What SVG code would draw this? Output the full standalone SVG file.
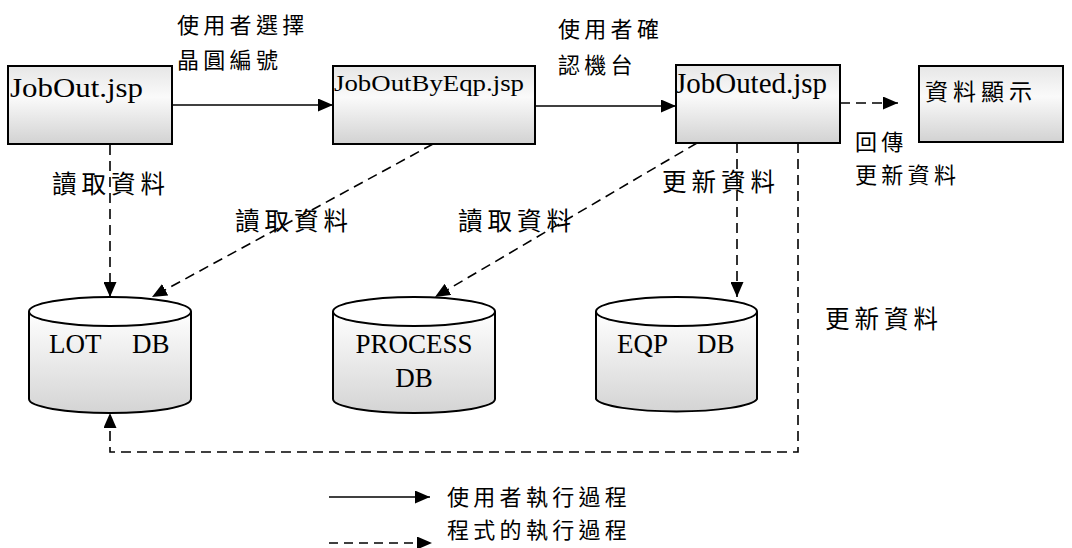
<svg xmlns="http://www.w3.org/2000/svg" width="1072" height="548" viewBox="0 0 1072 548">
  <defs>
    <linearGradient id="boxFill" x1="0" y1="0" x2="0" y2="1">
      <stop offset="0" stop-color="#e6e6e6"/>
      <stop offset="0.4" stop-color="#fafafa"/>
      <stop offset="1" stop-color="#d2d2d2"/>
    </linearGradient>
    <linearGradient id="cylFill" x1="0" y1="0" x2="0" y2="1">
      <stop offset="0" stop-color="#ffffff"/>
      <stop offset="1" stop-color="#d4d4d4"/>
    </linearGradient>
    <marker id="arrow" markerUnits="userSpaceOnUse" markerWidth="15" markerHeight="13" refX="15" refY="6.5" orient="auto">
      <path d="M0,0 L15,6.5 L0,13 z" fill="#000"/>
    </marker>
  </defs>
  <style>
    .box { fill: url(#boxFill); stroke: #000; stroke-width: 2; }
    .cyl { fill: url(#cylFill); stroke: #000; stroke-width: 2; }
    .cyltop { fill: #fff; stroke: #000; stroke-width: 2; }
    .en { font-family: "Liberation Serif", "Times New Roman", serif; fill: #000; }
    .zh { font-family: "Noto Sans CJK TC", "Noto Sans CJK SC", sans-serif; fill: #000; font-size: 22px; letter-spacing: 4.3px; }
    .zhl { font-family: "Noto Sans CJK TC", "Noto Sans CJK SC", sans-serif; fill: #000; font-size: 24.5px; letter-spacing: 5px; }
    .solid { fill: none; stroke: #000; stroke-width: 1.6; marker-end: url(#arrow); }
    .dash { fill: none; stroke: #000; stroke-width: 1.6; stroke-dasharray: 10 6; }
    .dash.arr { marker-end: url(#arrow); }
  </style>

  <!-- page nodes -->
  <g id="jobout">
    <rect class="box" x="8" y="66" width="164" height="78"/>
    <text class="en" x="10" y="97" font-size="28" textLength="133" lengthAdjust="spacingAndGlyphs">JobOut.jsp</text>
  </g>
  <g id="joboutbyeqp">
    <rect class="box" x="333" y="66" width="202" height="78"/>
    <text class="en" x="334" y="91" font-size="23" textLength="190" lengthAdjust="spacingAndGlyphs">JobOutByEqp.jsp</text>
  </g>
  <g id="jobouted">
    <rect class="box" x="676" y="65" width="164" height="78"/>
    <text class="en" x="675" y="93" font-size="29" textLength="152" lengthAdjust="spacingAndGlyphs">JobOuted.jsp</text>
  </g>
  <g id="display">
    <rect class="box" x="919" y="66" width="144" height="76"/>
    <text class="zh" x="925" y="100" style="font-size:23px;letter-spacing:5px">資料顯示</text>
  </g>

  <!-- database nodes -->
  <g id="lotdb">
    <path class="cyl" d="M29,311.5 V399 A81,14 0 0 0 191,399 V311.5"/>
    <ellipse class="cyltop" cx="110" cy="311.5" rx="81" ry="14.5"/>
    <text class="en" x="49" y="353" font-size="27">LOT<tspan x="132">DB</tspan></text>
  </g>
  <g id="processdb">
    <path class="cyl" d="M333,311.5 V399 A81,14 0 0 0 495,399 V311.5"/>
    <ellipse class="cyltop" cx="414" cy="311.5" rx="81" ry="14.5"/>
    <text class="en" x="414" y="353" font-size="27" text-anchor="middle">PROCESS</text>
    <text class="en" x="414" y="387" font-size="27" text-anchor="middle">DB</text>
  </g>
  <g id="eqpdb">
    <path class="cyl" d="M596,311.5 V399 A81,14 0 0 0 757,399 V311.5"/>
    <ellipse class="cyltop" cx="676.5" cy="311.5" rx="80.5" ry="14.5"/>
    <text class="en" x="617" y="353" font-size="27">EQP<tspan x="697">DB</tspan></text>
  </g>

  <!-- connectors -->
  <g id="connectors">
    <line class="solid" x1="172" y1="105" x2="333" y2="105"/>
    <line class="solid" x1="535" y1="106" x2="676" y2="106"/>
    <line class="dash arr" x1="840" y1="103" x2="898" y2="103"/>
    <line class="dash arr" x1="110" y1="145" x2="110" y2="297"/>
    <line class="dash arr" x1="433" y1="144" x2="152" y2="297"/>
    <line class="dash arr" x1="697" y1="143" x2="435" y2="297"/>
    <line class="dash arr" x1="737" y1="143" x2="737" y2="297"/>
    <polyline class="dash arr" points="798,143 798,452 110,452 110,413"/>
  </g>

  <!-- connector labels -->
  <g id="labels">
    <text class="zh" x="177" y="33">使用者選擇</text>
    <text class="zh" x="177" y="68">晶圓編號</text>
    <text class="zh" x="558" y="37">使用者確</text>
    <text class="zh" x="558" y="73">認機台</text>
    <text class="zh" x="855" y="150">回傳</text>
    <text class="zh" x="855" y="183">更新資料</text>
    <text class="zhl" x="52" y="193">讀取資料</text>
    <text class="zhl" x="235" y="230">讀取資料</text>
    <text class="zhl" x="458" y="230">讀取資料</text>
    <text class="zhl" x="662" y="191">更新資料</text>
    <text class="zhl" x="825" y="328">更新資料</text>
  </g>

  <!-- legend -->
  <g id="legend">
    <line class="solid" x1="329" y1="497" x2="430" y2="497"/>
    <text class="zh" x="447" y="505">使用者執行過程</text>
    <line class="dash arr" x1="329" y1="543" x2="432" y2="543" style="stroke-dasharray:9 6"/>
    <text class="zh" x="447" y="538">程式的執行過程</text>
  </g>
</svg>
